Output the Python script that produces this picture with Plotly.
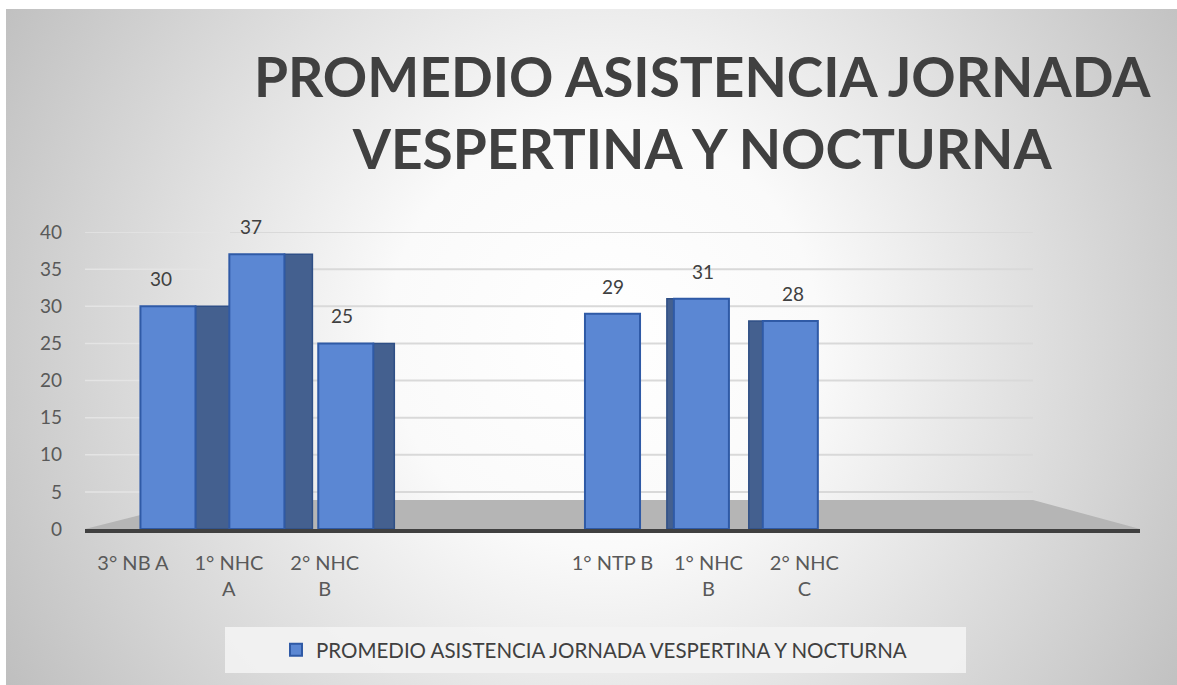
import base64
import plotly.graph_objects as go

# ---------------- data ----------------
categories = ["3° NB A", "1° NHC A", "2° NHC B", "", "", "1° NTP B", "1° NHC B", "2° NHC C", "", "", ""]
tick_labels = ["3° NB A", "1° NHC<br>A", "2° NHC<br>B", "", "", "1° NTP B", "1° NHC<br>B", "2° NHC<br>C", "", "", ""]
values = [30, 37, 25, None, None, 29, 31, 28, None, None, None]
series_name = "PROMEDIO ASISTENCIA JORNADA VESPERTINA Y NOCTURNA"
y_ticks = [0, 5, 10, 15, 20, 25, 30, 35, 40]
title_text = "PROMEDIO ASISTENCIA JORNADA<br>VESPERTINA Y NOCTURNA"

# ---------------- layout constants ----------------
W, H = 1177, 685
ML, MR, MT, MB = 85, 37, 232, 156
PW, PH = W - ML - MR, H - MT - MB
FONT = "Lato, 'Open Sans', sans-serif"

idx = list(range(len(categories)))
# pseudo-3D perspective: shift toward a vanishing point near category 5
VP = 5
persp = [0.073 * (VP - i) for i in idx]
HW = 0.287  # half width of bar front face

front_offset = [-HW + s for s in persp]
side_offset = [(HW + s) if s >= 0 else (-HW + 2 * s) for s in persp]
side_width = [abs(s) for s in persp]

fig = go.Figure()

# side faces (darker)
fig.add_trace(go.Bar(
    x=idx, y=values, offset=side_offset, width=side_width,
    marker=dict(color="#44608f", line=dict(color="#2f4f86", width=1.5)),
    showlegend=False, hoverinfo="skip",
))
# front faces
fig.add_trace(go.Bar(
    x=idx, y=values, offset=front_offset, width=[2 * HW] * len(idx),
    name=series_name,
    marker=dict(color="#5b87d3", line=dict(color="#2f5aa6", width=2)),
))

# data labels
for i, v in enumerate(values):
    if v is None:
        continue
    fig.add_annotation(
        x=i + 0.8 * persp[i], y=v, text=str(v), showarrow=False,
        yanchor="bottom", yshift=14,
        font=dict(family=FONT, size=19, color="#404040"),
    )

# background radial gradient
svg = (
    f'<svg xmlns="http://www.w3.org/2000/svg" width="{W}" height="{H}">'
    '<defs><radialGradient id="g" gradientUnits="userSpaceOnUse" cx="600" cy="330" r="720">'
    '<stop offset="0" stop-color="#ffffff"/><stop offset="0.3" stop-color="#fafafa"/>'
    '<stop offset="1" stop-color="#bcbcbc"/></radialGradient></defs>'
    f'<rect x="0" y="0" width="{W}" height="{H}" fill="url(#g)"/></svg>'
)
src = "data:image/svg+xml;base64," + base64.b64encode(svg.encode()).decode()
bx0, by0 = 6, 9
fig.add_layout_image(
    source=src, xref="paper", yref="paper",
    x=(bx0 - ML) / PW, y=(H - MB - by0) / PH,
    sizex=(W - bx0) / PW, sizey=(H - by0) / PH,
    xanchor="left", yanchor="top", sizing="stretch", layer="below",
)

px_per_unit = PH / 40.0
def px_to_paper_x(px):
    return (px - ML) / PW

# floor
floor_h = (529 - 500) / px_per_unit
fig.add_shape(
    type="path", xref="paper", yref="y", layer="below",
    path=f"M 0,0 L 1,0 L {px_to_paper_x(1033):.4f},{floor_h:.3f} L {px_to_paper_x(200):.4f},{floor_h:.3f} Z",
    fillcolor="#b5b5b5", line=dict(width=0),
)

# back wall gridlines
for v in y_ticks[1:]:
    fig.add_shape(
        type="line", xref="paper", yref="y", layer="below",
        x0=px_to_paper_x(230), x1=px_to_paper_x(1033), y0=v, y1=v,
        line=dict(color="#d9d9d9", width=2),
    )
    fig.add_shape(
        type="line", xref="paper", yref="y", layer="below",
        x0=px_to_paper_x(85), x1=px_to_paper_x(230), y0=v, y1=v,
        line=dict(color="#e4e4e4", width=1.5),
    )

# legend box
fig.add_shape(
    type="rect", xref="paper", yref="paper", layer="below",
    x0=px_to_paper_x(225), x1=px_to_paper_x(966),
    y0=(H - MB - 673) / PH, y1=(H - MB - 627) / PH,
    fillcolor="rgba(243,243,243,0.9)", line=dict(width=0),
)

# title as annotation (two lines)
fig.add_annotation(
    text=title_text, xref="paper", yref="paper",
    x=px_to_paper_x(702), y=(H - MB - 112) / PH,
    xanchor="center", yanchor="middle", showarrow=False,
    font=dict(family=FONT, size=55, weight=700, color="#404040"),
)

fig.update_layout(
    width=W, height=H,
    margin=dict(l=ML, r=MR, t=MT, b=MB, autoexpand=False),
    paper_bgcolor="white", plot_bgcolor="rgba(0,0,0,0)",
    barmode="overlay",
    font=dict(family=FONT, color="#595959"),
    xaxis=dict(
        range=[-0.5, len(categories) - 0.5],
        tickmode="array", tickvals=idx, ticktext=tick_labels,
        showgrid=False, zeroline=False, ticks="",
        showline=True, linecolor="#404040", linewidth=4,
        tickfont=dict(family=FONT, size=20, color="#595959"),
        ticklabelstandoff=13,
    ),
    yaxis=dict(
        range=[0, 40], tickvals=y_ticks, showgrid=False, zeroline=False,
        showline=False, ticks="",
        tickfont=dict(family=FONT, size=19, color="#595959"),
        ticklabelstandoff=22,
    ),
    legend=dict(
        orientation="h", x=px_to_paper_x(594), xanchor="center",
        y=(H - MB - 650) / PH, yanchor="middle",
        bgcolor="rgba(0,0,0,0)", itemwidth=30,
        font=dict(family=FONT, size=20.5, color="#404040"),
    ),
)

fig.write_html(
    "out.html",
    config={"displayModeBar": False},
    post_script="document.body.style.margin='0';document.body.style.overflow='hidden';",
)
